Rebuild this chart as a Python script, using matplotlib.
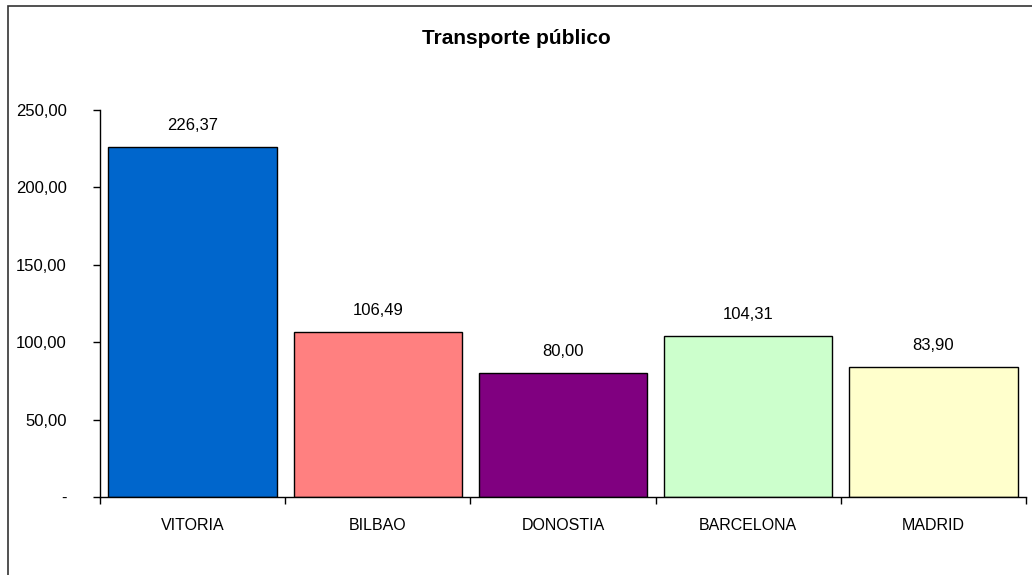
import numpy as np
import matplotlib.pyplot as plt
from matplotlib.patches import Rectangle
from matplotlib.ticker import FuncFormatter, FixedLocator

plt.rcParams['font.family'] = ['Liberation Sans', 'DejaVu Sans']

# data
ciudades = ["VITORIA", "BILBAO", "DONOSTIA", "BARCELONA", "MADRID"]
valores = [226.37, 106.49, 80.00, 104.31, 83.90]
colores = ["#0066CC", "#FF8080", "#800080", "#CCFFCC", "#FFFFCC"]
yticks = [0, 50, 100, 150, 200, 250]


def fmt(v, pos):
    # excel style: comma decimal, zero shown as a dash
    if abs(v) < 1e-9:
        return "-"
    return ("%.2f" % v).replace(".", ",")


fig = plt.figure(figsize=(10.32, 5.75), dpi=100)
ax = fig.add_axes([100/1032, 1 - 497/575, 926/1032, 387/575])

x = np.arange(len(ciudades))
ax.bar(x, valores, width=0.91, color=colores, edgecolor="black", linewidth=1.0, zorder=2)

for xi, v in zip(x, valores):
    ax.annotate(fmt(v, None), (xi, v), xytext=(0, 10), textcoords="offset points",
                ha="center", va="bottom", fontsize=12)

ax.set_xlim(-0.5, len(ciudades) - 0.5)
ax.set_ylim(0, 250)
ax.set_yticks(yticks)
ax.yaxis.set_major_formatter(FuncFormatter(fmt))
ax.set_xticks(x)
ax.set_xticklabels(ciudades, fontsize=11.5)
ax.xaxis.set_minor_locator(FixedLocator(np.arange(-0.5, len(ciudades), 1.0)))
ax.tick_params(axis="x", which="major", length=0, pad=15)
ax.tick_params(axis="x", which="minor", length=5, direction="out", width=1)
ax.tick_params(axis="y", length=5, direction="out", width=1, labelsize=12, pad=19)
for lbl in ax.get_yticklabels():
    lbl.set_horizontalalignment("right")

ax.spines["top"].set_visible(False)
ax.spines["right"].set_visible(False)
for s in ("left", "bottom"):
    ax.spines[s].set_linewidth(1)

fig.text(0.5, 1 - 39/575, "Transporte público", ha="center", va="center",
         fontsize=15, fontweight="bold")

# outer chart border
fig.patches.append(Rectangle((8/1032, -0.05), 1.2, 1 - 6/575 + 0.05,
                             transform=fig.transFigure, fill=False,
                             edgecolor="#333333", linewidth=1.2))

fig.savefig("out.png", dpi=100)
